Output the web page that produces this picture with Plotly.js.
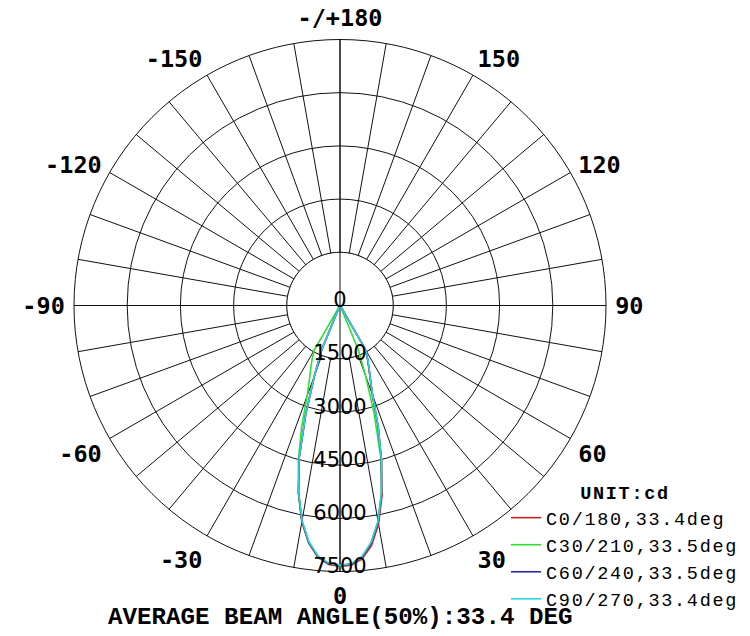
<!DOCTYPE html>
<html><head><meta charset="utf-8">
<script src="https://cdn.plot.ly/plotly-3.0.1.min.js"></script>
<style>html,body{margin:0;padding:0;background:#fff}#chart{width:750px;height:636px}
.legendtext{letter-spacing:1.7px}
.legendtitletext{letter-spacing:1.7px}
</style>
</head><body><div id="chart"></div>
<script>
// gamma angles (deg) at which intensities (cd) are read
const gamma = [0,2.5,5,7.5,10,12.5,15,17.5,20,22.5,25,27.5,30,32.5,35,40,50,60,70,80,90];
// C-plane intensities (cd): right half C0..C90, left half C180..C270
const c0   = [7360,7330,7170,6820,6260,5480,4520,3560,2660,2220,1920,1670,1420,55,28,18,11,7,4,2,0];
const c180 = [7360,7310,7130,6760,6200,5420,4460,3220,2120,1350,55,30,20,15,12,10,8,5,3,2,0];
const c30  = [7340,7300,7120,6750,6190,5410,4450,3210,2110,1340,55,28,18,14,11,9,7,5,3,2,0];
const c210 = [7340,7290,7110,6740,6180,5410,4540,3600,2700,2250,1950,1700,1450,60,30,20,12,8,4,2,0];
const c60  = [7330,7300,7120,6750,6190,5410,4510,3580,2680,2230,1930,1680,1430,55,28,18,11,7,4,2,0];
const c240 = [7330,7290,7110,6740,6180,5400,4450,3200,2100,1330,55,28,18,14,11,9,7,5,3,2,0];
const c90  = [7320,7280,7100,6730,6170,5400,4520,3590,2690,2240,1940,1690,1440,55,28,18,11,7,4,2,0];
const c270 = [7320,7270,7090,6720,6160,5390,4460,3210,2110,1340,55,28,18,14,11,9,7,5,3,2,0];

const planeNames  = ["C0/180,33.4deg","C30/210,33.5deg","C60/240,33.5deg","C90/270,33.4deg"];
const planeColors = ["#d42020","#30e030","#2828a8","#30d4dc"];
const planeRight  = [c0, c30, c60, c90];
const planeLeft   = [c180, c210, c240, c270];

const radialTicks = [0,1500,3000,4500,6000,7500];
const angleLabelVals = [0,30,60,90,120,150,180,210,240,270,300,330];
const angleLabelText = ["0","30","60","90","120","150","-/+180","-150","-120","-90","-60","-30"];
const titleText = "AVERAGE BEAM ANGLE(50%):33.4 DEG";
const unitText = "UNIT:cd";

// grid spokes every 10 deg, labels only at 30 deg multiples
const spokeVals = [], spokeText = [];
for (let a = 0; a < 360; a += 10) {
  spokeVals.push(a);
  const i = angleLabelVals.indexOf(a);
  spokeText.push(i >= 0 ? angleLabelText[i] : "");
}

const rMax = radialTicks[radialTicks.length - 1];
const rInner = radialTicks[1];
const traces = [];

// white inner disk (hides spokes inside first ring)
const diskT = [], diskR = [];
for (let a = 0; a <= 360; a += 2) { diskT.push(a); diskR.push(rInner); }
traces.push({type:"scatterpolar", mode:"lines", r:diskR, theta:diskT, fill:"toself",
  fillcolor:"#ffffff", line:{color:"#111", width:1}, hoverinfo:"skip", showlegend:false});
// main cross through center
traces.push({type:"scatterpolar", mode:"lines",
  r:[rMax,0,rMax,null,rMax,0,rMax], theta:[0,0,180,null,90,90,270],
  line:{color:"#111", width:1}, hoverinfo:"skip", showlegend:false});

// distribution curves: left half is the opposite C-plane (negative gamma)
for (let k = 0; k < 4; k++) {
  const th = [], rr = [];
  for (let i = gamma.length - 1; i >= 0; i--) { th.push(-gamma[i]); rr.push(planeLeft[k][i]); }
  for (let i = 1; i < gamma.length; i++) { th.push(gamma[i]); rr.push(planeRight[k][i]); }
  traces.push({type:"scatterpolar", mode:"lines", r:rr, theta:th, name:planeNames[k],
    line:{color:planeColors[k], width:1.6}});
}

// radial value labels along the 0 deg axis (on an overlaid, slightly offset polar frame)
traces.push({type:"scatterpolar", subplot:"polar2", mode:"text", r:radialTicks,
  theta:radialTicks.map(() => 0),
  text:radialTicks.map(String), textposition:"top center",
  textfont:{family:"DejaVu Sans", size:21, color:"#000"}, hoverinfo:"skip", showlegend:false});

const dom = {x:[74/750, 606/750], y:[64.5/636, 596.5/636]};
const shift = 7/636;
const layout = {
  width:750, height:636, margin:{l:0,r:0,t:0,b:0},
  paper_bgcolor:"#fff", plot_bgcolor:"#fff",
  polar:{
    domain:dom,
    bgcolor:"#fff",
    angularaxis:{rotation:-90, direction:"counterclockwise", thetaunit:"degrees",
      tickmode:"array", tickvals:spokeVals, ticktext:spokeText,
      showgrid:true, gridcolor:"#111", gridwidth:1,
      showline:true, linecolor:"#111", linewidth:1,
      ticks:"outside", ticklen:4, tickcolor:"rgba(0,0,0,0)",
      tickfont:{family:"DejaVu Sans Mono", size:23.5, color:"#000", weight:"bold"}},
    radialaxis:{range:[0, rMax], tickmode:"array", tickvals:radialTicks.slice(1, -1),
      showgrid:true, gridcolor:"#111", gridwidth:1, showline:false,
      showticklabels:false, ticks:""}
  },
  polar2:{
    domain:{x:dom.x, y:[dom.y[0] - shift, dom.y[1] - shift]},
    bgcolor:"rgba(0,0,0,0)",
    angularaxis:{rotation:-90, direction:"counterclockwise", visible:false, showgrid:false, showline:false},
    radialaxis:{range:[0, rMax], visible:false, showgrid:false, showline:false}
  },
  showlegend:true,
  legend:{x:0.6747, xanchor:"left", y:0.253, yanchor:"top", bgcolor:"rgba(0,0,0,0)",
    itemwidth:30, tracegroupgap:0,
    font:{family:"Liberation Mono", size:18.5, color:"#000"},
    title:{text:"<b>" + unitText + "</b>", side:"top center",
      font:{family:"Liberation Mono", size:18.5, color:"#000"}}},
  annotations:[{xref:"paper", yref:"paper", x:340/750, y:(636-617)/636,
    xanchor:"center", yanchor:"middle", showarrow:false, text:"<b>" + titleText + "</b>",
    font:{family:"Liberation Mono", size:24.2, color:"#000"}}]
};

Plotly.newPlot("chart", traces, layout, {displayModeBar:false, staticPlot:true});
</script>
</body></html>
